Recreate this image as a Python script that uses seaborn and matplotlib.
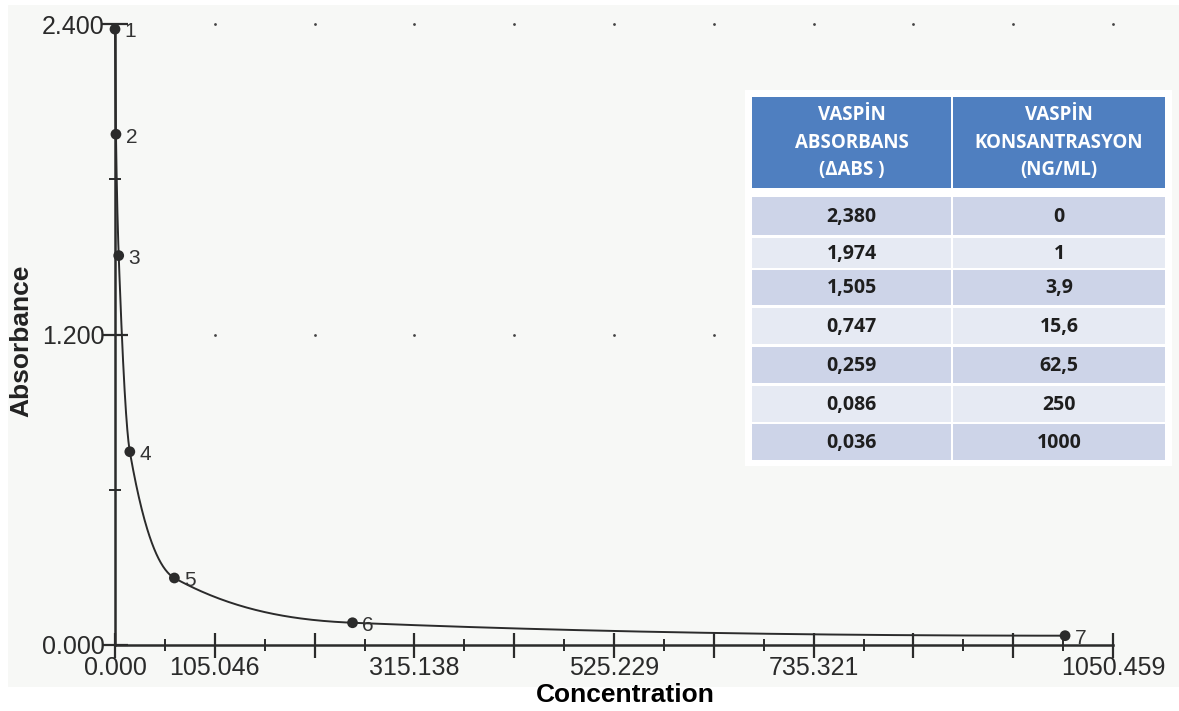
import numpy as np
import pandas as pd
import matplotlib
matplotlib.use("Agg")
import matplotlib.pyplot as plt
from matplotlib.patches import Rectangle
import seaborn as sns

# ---------------- data ----------------
concentration = [0, 1, 3.9, 15.6, 62.5, 250, 1000]
absorbance = [2.380, 1.974, 1.505, 0.747, 0.259, 0.086, 0.036]
point_labels = ["1", "2", "3", "4", "5", "6", "7"]

x_max = 1050.459
x_major_step = 105.0459
x_tick_labels = ["0.000", "105.046", "", "315.138", "", "525.229", "", "735.321", "", "", "1050.459"]
y_major = [0.0, 1.2, 2.4]
y_tick_labels = ["0.000", "1.200", "2.400"]
y_minor = [0.6, 1.8]

table_header = ["VASPİN\nABSORBANS\n(ΔABS )", "VASPİN\nKONSANTRASYON\n(NG/ML)"]
table_abs = ["2,380", "1,974", "1,505", "0,747", "0,259", "0,086", "0,036"]
table_conc = ["0", "1", "3,9", "15,6", "62,5", "250", "1000"]

# ---------------- helpers ----------------
def pchip(x, y, xs):
    x = np.asarray(x, float); y = np.asarray(y, float)
    n = len(x)
    h = np.diff(x); d = np.diff(y) / h
    m = np.zeros(n)
    for k in range(1, n - 1):
        if d[k - 1] * d[k] > 0:
            w1 = 2 * h[k] + h[k - 1]
            w2 = h[k] + 2 * h[k - 1]
            m[k] = (w1 + w2) / (w1 / d[k - 1] + w2 / d[k])
    def end(h0, h1, d0, d1):
        mm = ((2 * h0 + h1) * d0 - h0 * d1) / (h0 + h1)
        if np.sign(mm) != np.sign(d0):
            mm = 0.0
        elif np.sign(d0) != np.sign(d1) and abs(mm) > abs(3 * d0):
            mm = 3 * d0
        return mm
    m[0] = end(h[0], h[1], d[0], d[1])
    m[-1] = end(h[-1], h[-2], d[-1], d[-2])
    out = np.empty_like(xs)
    idx = np.clip(np.searchsorted(x, xs) - 1, 0, n - 2)
    for i, xv in enumerate(xs):
        k = idx[i]
        t = (xv - x[k]) / h[k]
        h00 = 2 * t**3 - 3 * t**2 + 1
        h10 = t**3 - 2 * t**2 + t
        h01 = -2 * t**3 + 3 * t**2
        h11 = t**3 - t**2
        out[i] = h00 * y[k] + h10 * h[k] * m[k] + h01 * y[k + 1] + h11 * h[k] * m[k + 1]
    return out

xs = np.concatenate([np.linspace(concentration[i], concentration[i + 1], 80)
                     for i in range(len(concentration) - 1)])
ys = pchip(concentration, absorbance, xs)
curve = pd.DataFrame({"Concentration": xs, "Absorbance": ys})
pts = pd.DataFrame({"Concentration": concentration, "Absorbance": absorbance})

# ---------------- figure ----------------
sns.set_theme(style="white")
plt.rcParams["font.family"] = ["Liberation Sans", "DejaVu Sans"]

W, H = 1179, 711
fig = plt.figure(figsize=(W / 100, H / 100), dpi=100)
fig.patch.set_facecolor("white")

def fx(px):
    return px / W
def fy(py):
    return 1 - py / H

# scanned background
fig.add_artist(Rectangle((fx(8), fy(687)), fx(1179) - fx(8), fy(5) - fy(687),
                         transform=fig.transFigure, facecolor="#f7f8f6", edgecolor="none", zorder=0))

ax = fig.add_axes([fx(115), fy(645), fx(1113) - fx(115), fy(24) - fy(645)])
ax.set_facecolor("none")

ink = "#2b2b2b"
sns.lineplot(data=curve, x="Concentration", y="Absorbance", ax=ax, color=ink,
             linewidth=1.4, clip_on=False, zorder=3)
sns.scatterplot(data=pts, x="Concentration", y="Absorbance", ax=ax, color=ink,
                s=60, edgecolor="none", clip_on=False, zorder=4)
for xv, yv, lab in zip(concentration, absorbance, point_labels):
    ax.annotate(lab, (xv, yv), xytext=(7, -2), textcoords="offset points",
                ha="left", va="center", fontsize=15, color="#333333")

ax.set_xlim(0, x_max)
ax.set_ylim(0, 2.4)

x_major = [x_major_step * i for i in range(len(x_tick_labels))]
x_minor = [x_major_step * (i + 0.5) for i in range(len(x_tick_labels) - 1)]
ax.set_xticks(x_major)
ax.set_xticklabels(x_tick_labels)
ax.set_xticks(x_minor, minor=True)
ax.set_yticks(y_major)
ax.set_yticklabels(y_tick_labels)
ax.set_yticks(y_minor, minor=True)

ax.tick_params(axis="both", which="both", bottom=True, left=True, top=False, right=False)
ax.tick_params(axis="both", which="major", direction="inout", color=ink, width=1.6,
               labelsize=18, labelcolor="#2a2a2a")
ax.tick_params(axis="x", which="major", length=18, pad=-1)
ax.tick_params(axis="x", which="minor", direction="inout", length=8, width=1.4, color=ink)
ax.tick_params(axis="y", which="major", length=19, pad=-2)
ax.tick_params(axis="y", which="minor", direction="inout", length=9, width=1.4, color=ink)

for s in ["top", "right"]:
    ax.spines[s].set_visible(False)
for s in ["left", "bottom"]:
    ax.spines[s].set_color(ink)
    ax.spines[s].set_linewidth(1.8)

# dotted grid marks at major intersections
gx, gy = np.meshgrid(x_major[1:], y_major[1:])
ax.scatter(gx.ravel(), gy.ravel(), s=4, color="#444444", zorder=1, clip_on=False, linewidths=0)

ax.set_xlabel("Concentration", fontsize=19, fontweight="bold", color="black")
ax.set_ylabel("Absorbance", fontsize=19, fontweight="bold", color="#222222")
ax.yaxis.set_label_coords(-(115 - 33) / (1113 - 115), 0.49)
ax.xaxis.set_label_coords((625 - 115) / (1113 - 115), -(683 - 645) / (645 - 24))

# ---------------- table ----------------
tfam = ["Open Sans", "DejaVu Sans"]
fig.add_artist(Rectangle((fx(745), fy(466)), fx(1172) - fx(745), fy(90) - fy(466),
                         transform=fig.transFigure, facecolor="white", edgecolor="none", zorder=5))
cols = [(752, 951), (953, 1165)]
header_top, header_bot = 97, 188
rows = [(197, 235), (238, 268), (270, 305), (308, 344), (347, 383), (386, 422), (424, 460)]
row_colors = ["#cdd4e8", "#e6eaf3"]

for ci, (x0, x1) in enumerate(cols):
    fig.add_artist(Rectangle((fx(x0), fy(header_bot)), fx(x1) - fx(x0), fy(header_top) - fy(header_bot),
                             transform=fig.transFigure, facecolor="#4f7fc0", edgecolor="none", zorder=6))
    for li, line in enumerate(table_header[ci].split("\n")):
        fig.text(fx((x0 + x1) / 2), fy(115 + li * 27.5), line, ha="center", va="center",
                 fontsize=13.5, fontweight="bold", color="white", family=tfam, zorder=7)
    values = table_abs if ci == 0 else table_conc
    for ri, (y0, y1) in enumerate(rows):
        fig.add_artist(Rectangle((fx(x0), fy(y1)), fx(x1) - fx(x0), fy(y0) - fy(y1),
                                 transform=fig.transFigure, facecolor=row_colors[ri % 2],
                                 edgecolor="none", zorder=6))
        fig.text(fx((x0 + x1) / 2), fy((y0 + y1) / 2 + 1), values[ri], ha="center", va="center",
                 fontsize=14, fontweight="bold", color="#1e1e1e", family=tfam, zorder=7)

fig.savefig("out.png", dpi=100, facecolor=fig.get_facecolor())
